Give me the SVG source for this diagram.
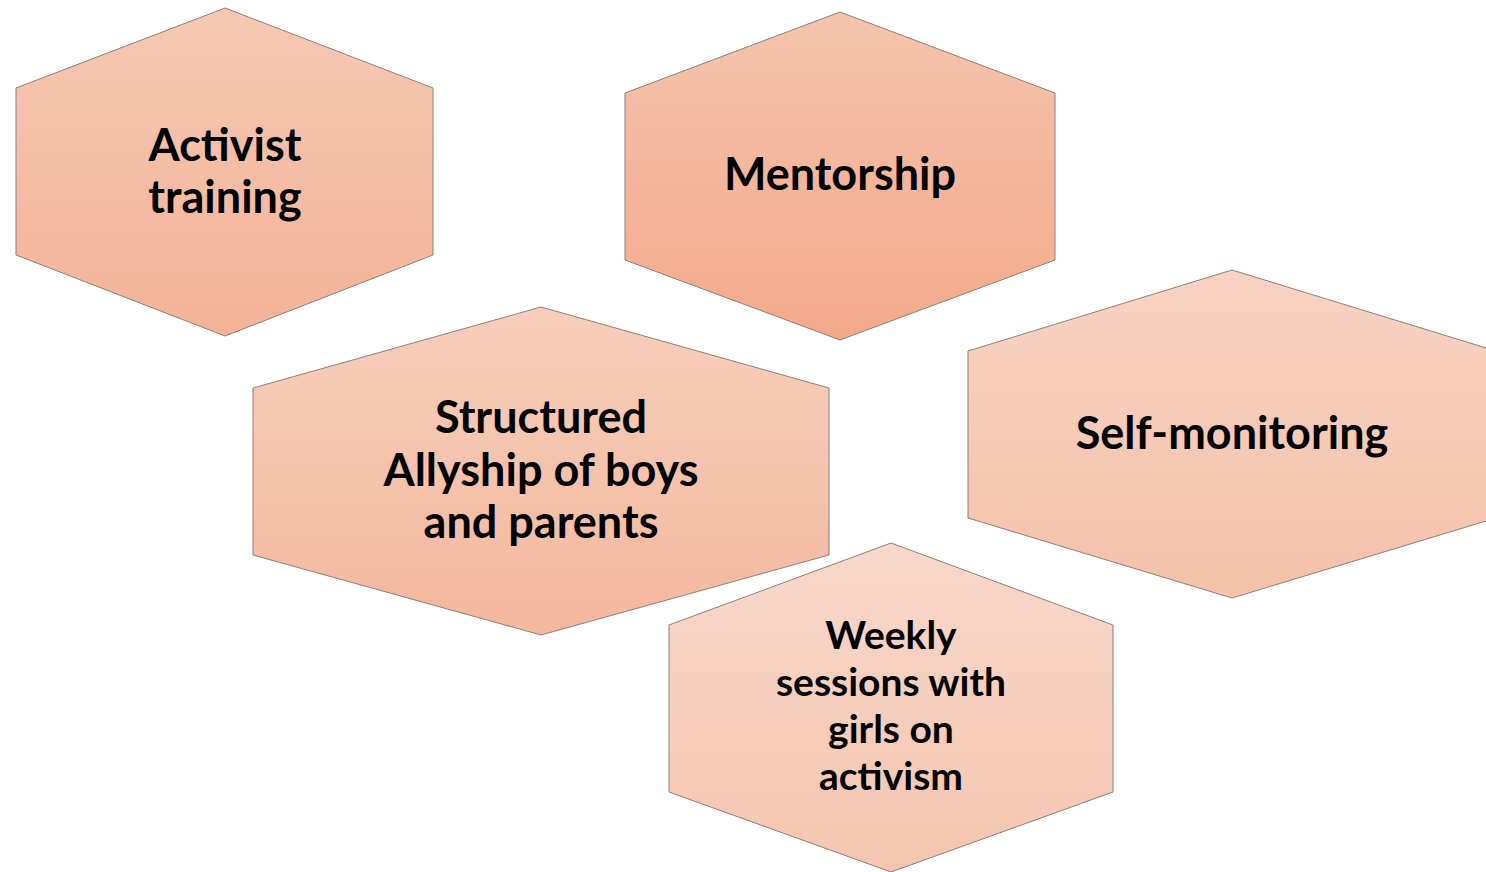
<svg xmlns="http://www.w3.org/2000/svg" width="1486" height="872" viewBox="0 0 1486 872">
<defs>
<linearGradient id="g1" x1="0" y1="0" x2="0" y2="1"><stop offset="0" stop-color="#f6c8b3"/><stop offset="1" stop-color="#f3b498"/></linearGradient>
<linearGradient id="g2" x1="0" y1="0" x2="0" y2="1"><stop offset="0" stop-color="#f5c4ad"/><stop offset="1" stop-color="#f3a98a"/></linearGradient>
<linearGradient id="g3" x1="0" y1="0" x2="0" y2="1"><stop offset="0" stop-color="#f6cebb"/><stop offset="1" stop-color="#f4b89e"/></linearGradient>
<linearGradient id="g4" x1="0" y1="0" x2="0" y2="1"><stop offset="0" stop-color="#f7d3c3"/><stop offset="1" stop-color="#f5c1aa"/></linearGradient>
<linearGradient id="g5" x1="0" y1="0" x2="0" y2="1"><stop offset="0" stop-color="#f7d8ca"/><stop offset="1" stop-color="#f5c5b0"/></linearGradient>
</defs>
<style>
.hex{stroke:#8c7e78;stroke-width:1}
.t{font-family:Lato,"Open Sans","Liberation Sans",sans-serif;font-weight:bold;fill:#000;text-anchor:middle}
.big{font-size:45px}
.small{font-size:39px}
</style>
<rect width="1486" height="872" fill="#fff"/>
<g id="connectors"/>
<g id="activist-training">
<polygon class="hex" fill="url(#g1)" points="225,8 433,88 433,255 225,336 16,255 16,88"/>
<text class="t big" x="225" y="161">Activist</text>
<text class="t big" x="225" y="213">training</text>
</g>
<g id="mentorship">
<polygon class="hex" fill="url(#g2)" points="840,12 1055,93 1055,260 840,340 625,260 625,93"/>
<text class="t big" x="840" y="190">Mentorship</text>
</g>
<g id="structured-allyship">
<polygon class="hex" fill="url(#g3)" points="541,307 829,388 829,555 541,635 253,555 253,388"/>
<text class="t big" x="541" y="433">Structured</text>
<text class="t big" x="541" y="486">Allyship of boys</text>
<text class="t big" x="541" y="538">and parents</text>
</g>
<g id="self-monitoring">
<polygon class="hex" fill="url(#g4)" points="1232,270 1496,351 1496,518 1232,598 968,518 968,351"/>
<text class="t big" x="1232" y="449">Self-monitoring</text>
</g>
<g id="weekly-sessions">
<polygon class="hex" fill="url(#g5)" points="891,543 1113,625 1113,792 891,872 669,792 669,625"/>
<text class="t small" x="891" y="649">Weekly</text>
<text class="t small" x="891" y="696">sessions with</text>
<text class="t small" x="891" y="743">girls on</text>
<text class="t small" x="891" y="790">activism</text>
</g>
</svg>
